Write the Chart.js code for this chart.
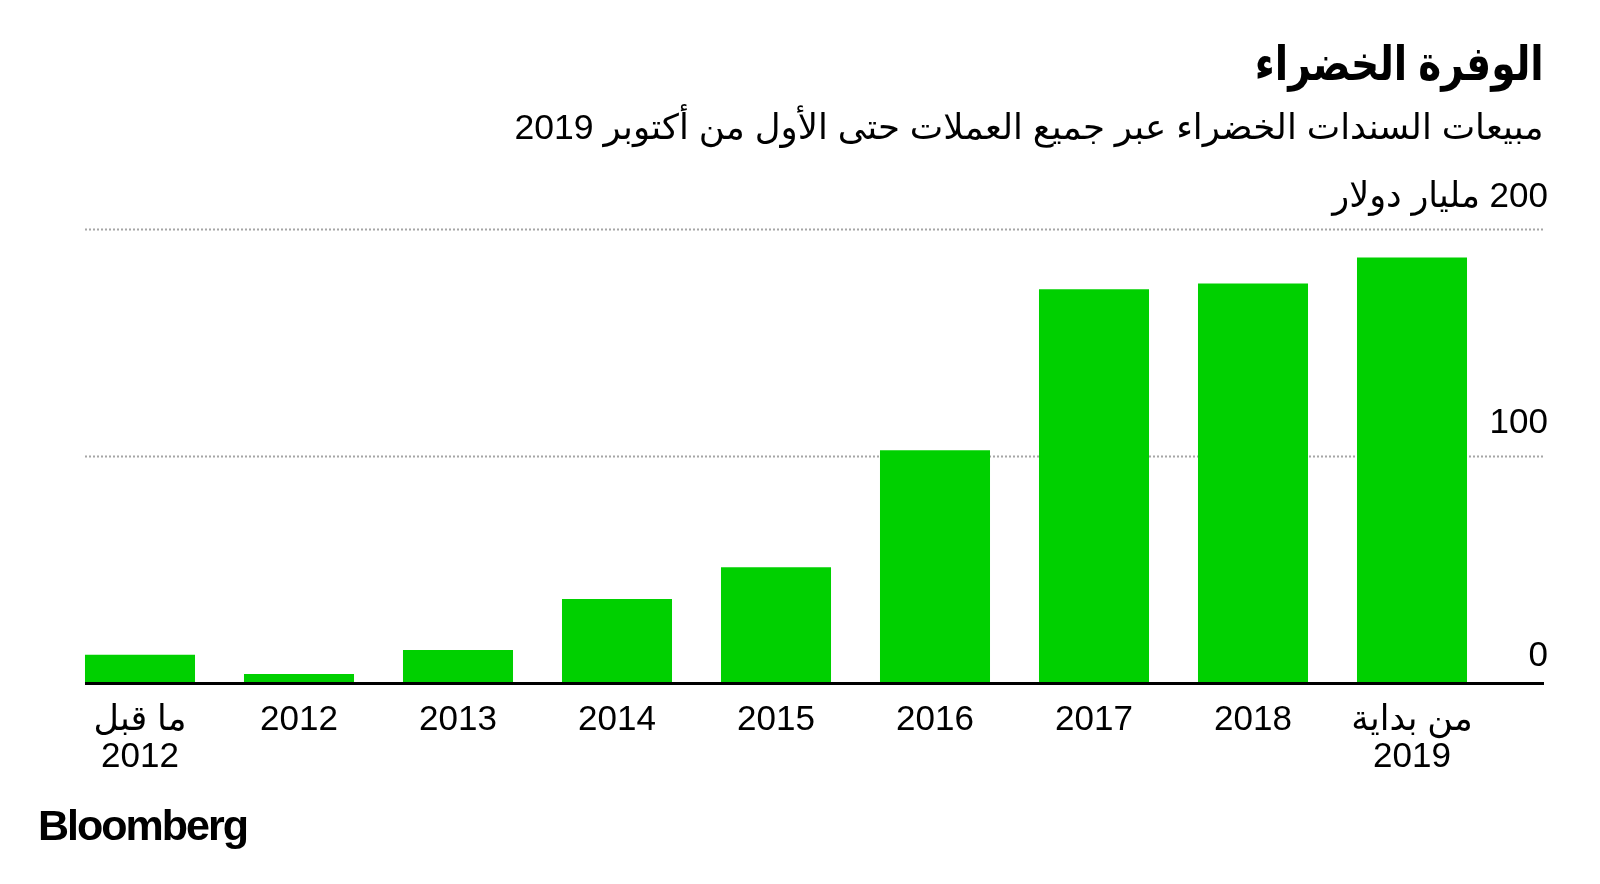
<!DOCTYPE html>
<html><head><meta charset="utf-8">
<script src="https://cdn.jsdelivr.net/npm/chart.js@4"></script>
<style>
html,body{margin:0;padding:0;background:#fff;width:1600px;height:884px;overflow:hidden}
#c{position:absolute;left:0;top:0}
.t{position:absolute;white-space:nowrap;color:#000;direction:rtl;font-family:"Liberation Sans","DejaVu Sans",sans-serif;transform-origin:right center}
#title{right:56px;top:36px;font-size:48px;line-height:56px;font-weight:bold}
#sub{right:56px;top:105px;font-size:35px;line-height:44px}
#logo{left:38px;top:802px;font-size:43px;line-height:46px;font-weight:bold;direction:ltr;letter-spacing:-2px;transform-origin:left center}
</style></head><body>
<canvas id="c" width="1600" height="884"></canvas>
<div class="t" id="title">الوفرة الخضراء</div>
<div class="t" id="sub">مبيعات السندات الخضراء عبر جميع العملات حتى الأول من أكتوبر 2019</div>
<div class="t" id="logo">Bloomberg</div>
<script>
const categories = [["ما قبل","2012"],"2012","2013","2014","2015","2016","2017","2018",["من بداية","2019"]];
const salesBn = [12.5, 4, 14.5, 37, 51, 102.5, 173.5, 176, 187.5];
const yTickValues = [0, 100, 200];
const yTickLabels = ["0", "100", "200 مليار دولار"];

const FONT = "'Liberation Sans','DejaVu Sans',sans-serif";

function fitWidth(id, target) {
  const el = document.getElementById(id);
  const w = el.getBoundingClientRect().width;
  if (w > 0) el.style.transform = 'scaleX(' + (target / w) + ')';
}
fitWidth('title', 289);
fitWidth('sub', 1029);
fitWidth('logo', 209);

const gridPlugin = {
  id: 'gridPlugin',
  beforeDatasetsDraw(chart) {
    const {ctx, scales: {y}} = chart;
    ctx.save();
    ctx.strokeStyle = '#a6a6a6';
    ctx.lineWidth = 2;
    ctx.setLineDash([2, 2]);
    yTickValues.forEach(v => {
      if (v === 0) return;
      const py = Math.round(y.getPixelForValue(v)) + 0.5;
      ctx.beginPath();
      ctx.moveTo(85, py);
      ctx.lineTo(1544, py);
      ctx.stroke();
    });
    ctx.restore();
  },
  afterDatasetsDraw(chart) {
    const {ctx, scales: {y}} = chart;
    ctx.save();
    const p0 = y.getPixelForValue(0);
    ctx.fillStyle = '#000';
    ctx.fillRect(85, p0 - 1, 1459, 3);
    ctx.font = '35px ' + FONT;
    ctx.textAlign = 'right';
    ctx.textBaseline = 'middle';
    ctx.direction = 'rtl';
    const offs = [-27, -33, -32];
    yTickValues.forEach((v, i) => {
      const py = y.getPixelForValue(v) + offs[i];
      ctx.fillText(yTickLabels[i], 1548, py);
    });
    ctx.restore();
  }
};

new Chart(document.getElementById('c'), {
  type: 'bar',
  data: {
    labels: categories,
    datasets: [{
      data: salesBn,
      backgroundColor: '#00d000',
      borderWidth: 0,
      categoryPercentage: 1,
      barPercentage: 0.692
    }]
  },
  options: {
    responsive: false,
    animation: false,
    devicePixelRatio: 1,
    layout: { padding: { left: 60.5, right: 108.5, top: 229, bottom: 0 } },
    plugins: { legend: { display: false }, tooltip: { enabled: false } },
    scales: {
      x: {
        grid: { display: false },
        border: { display: false },
        ticks: {
          color: '#000',
          font: { family: FONT, size: 35, lineHeight: 1.08 },
          padding: 10,
          maxRotation: 0,
          autoSkip: false
        },
        afterFit(s) { s.height = 201; }
      },
      y: {
        display: false,
        min: 0,
        max: 200
      }
    }
  },
  plugins: [gridPlugin]
});
</script>
</body></html>
